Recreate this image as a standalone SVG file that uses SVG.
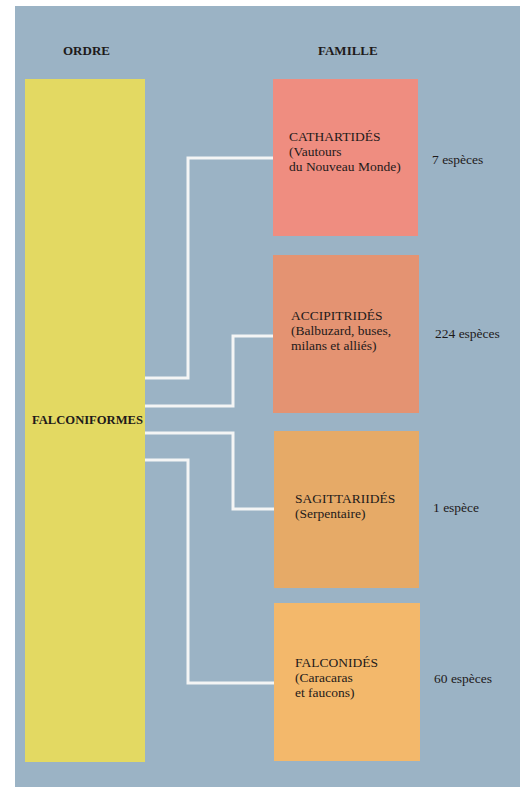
<svg xmlns="http://www.w3.org/2000/svg" width="520" height="787" viewBox="0 0 520 787">
<style>
.t{font-family:"Liberation Serif","Times New Roman",serif;font-size:13.5px;fill:#1e1a1a}
.b{font-weight:bold;font-size:13px}
.c{fill:none;stroke:#f4f5f5;stroke-width:3;stroke-linejoin:miter}
</style>
<rect x="0" y="0" width="520" height="787" fill="#ffffff"/>
<rect x="15" y="6" width="505" height="781" fill="#9bb3c5"/>
<text class="t b" x="63" y="55">ORDRE</text>
<text class="t b" x="318" y="55">FAMILLE</text>
<g id="connectors">
<path class="c" d="M145 378H188V158H274"/>
<path class="c" d="M145 406H233V336H274"/>
<path class="c" d="M145 433H233V509H274"/>
<path class="c" d="M145 460H188V683H274"/>
</g>
<g id="falconiformes">
<rect x="25" y="79" width="120" height="683" fill="#e3d962"/>
<text class="t b" x="32" y="424" textLength="111" lengthAdjust="spacingAndGlyphs">FALCONIFORMES</text>
</g>
<g id="cathartides">
<rect x="273" y="79" width="145" height="157" fill="#ef8d80"/>
<text class="t" x="289" y="141">CATHARTIDÉS</text>
<text class="t" x="289" y="156">(Vautours</text>
<text class="t" x="289" y="171">du Nouveau Monde)</text>
<text class="t" x="432" y="164">7 espèces</text>
</g>
<g id="accipitrides">
<rect x="273" y="255" width="146" height="158" fill="#e49372"/>
<text class="t" x="291" y="320">ACCIPITRIDÉS</text>
<text class="t" x="291" y="335">(Balbuzard, buses,</text>
<text class="t" x="291" y="350">milans et alliés)</text>
<text class="t" x="435" y="338">224 espèces</text>
</g>
<g id="sagittariides">
<rect x="274" y="431" width="145" height="157" fill="#e6aa67"/>
<text class="t" x="295" y="503">SAGITTARIIDÉS</text>
<text class="t" x="295" y="518">(Serpentaire)</text>
<text class="t" x="433" y="512">1 espèce</text>
</g>
<g id="falconides">
<rect x="274" y="603" width="146" height="158" fill="#f3b86b"/>
<text class="t" x="295" y="667">FALCONIDÉS</text>
<text class="t" x="295" y="682">(Caracaras</text>
<text class="t" x="295" y="697">et faucons)</text>
<text class="t" x="434" y="683">60 espèces</text>
</g>
</svg>
